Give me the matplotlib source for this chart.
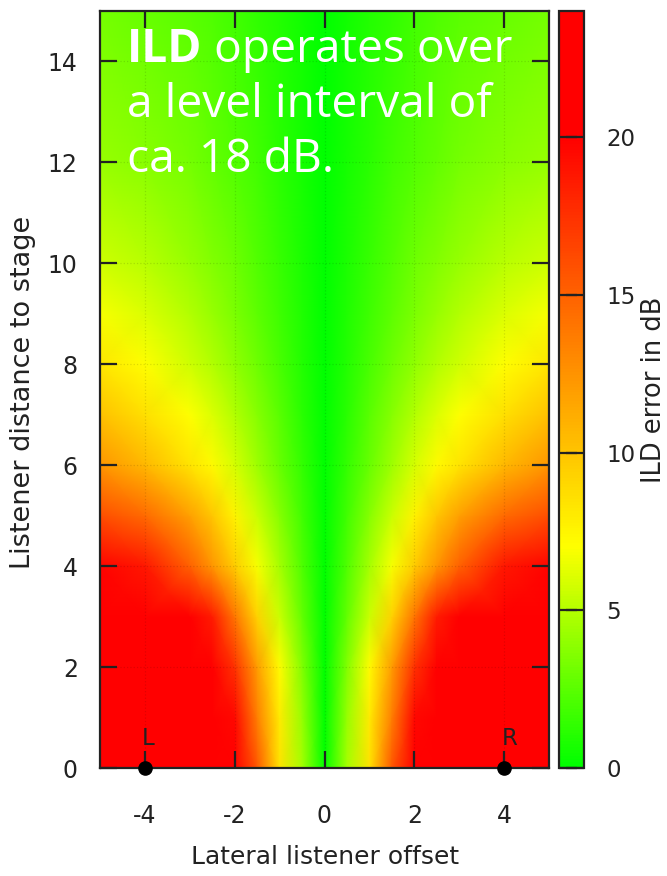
import numpy as np
import matplotlib.pyplot as plt
from matplotlib.colors import LinearSegmentedColormap

plt.rcParams["axes.unicode_minus"] = False

# Lateral offsets (left half, the field is mirrored about x = 0)
x_half = [-5, -4, -3, -2.5, -2, -1.5, -1, -0.5, 0]
# Listener distances
y_rows = [0, 1, 2, 3, 4, 5, 6, 7, 8, 9, 10, 12, 15]

# ILD error in dB, one row per distance
ild_err_half = [
    [24.0, 24.0, 24.0, 23.5, 21.0, 15.5, 8.5, 4.5, 0],
    [24.0, 24.0, 24.0, 22.5, 19.5, 13.5, 8.0, 4.2, 0],
    [24.0, 24.0, 23.0, 21.0, 17.5, 12.0, 7.2, 3.6, 0],
    [24.0, 23.5, 21.0, 18.6, 14.0, 9.3, 5.6, 2.8, 0],
    [19.8, 18.8, 15.0, 12.4, 9.6, 6.8, 4.5, 2.2, 0],
    [16.0, 14.6, 11.9, 9.9, 7.6, 5.6, 3.7, 1.8, 0],
    [12.4, 10.6, 8.4, 7.3, 5.9, 4.4, 2.9, 1.45, 0],
    [10.2, 8.6, 7.0, 6.0, 4.9, 3.7, 2.5, 1.2, 0],
    [8.3, 7.1, 5.7, 4.9, 4.0, 3.0, 2.0, 1.0, 0],
    [6.8, 6.0, 4.9, 4.2, 3.4, 2.6, 1.7, 0.85, 0],
    [5.7, 5.1, 4.2, 3.6, 3.0, 2.3, 1.5, 0.75, 0],
    [4.2, 3.8, 3.2, 2.8, 2.3, 1.8, 1.2, 0.6, 0],
    [3.2, 2.9, 2.5, 2.2, 1.8, 1.4, 0.95, 0.5, 0],
]

speaker_x = [-4, 4]
speaker_y = [0, 0]
speaker_names = ["L", "R"]

x_ticks = [-4, -2, 0, 2, 4]
y_ticks = [0, 2, 4, 6, 8, 10, 12, 14]
cb_ticks = [0, 5, 10, 15, 20]

# Build full (mirrored) grid
x_full = np.array(x_half + [-v for v in reversed(x_half[:-1])])
half = np.array(ild_err_half)
z_full = np.hstack([half, half[:, -2::-1]])
X, Y = np.meshgrid(x_full, np.array(y_rows))

W, H = 667, 876
fig = plt.figure(figsize=(W / 100, H / 100), dpi=100)

ax = fig.add_axes([100 / W, (H - 768) / H, 449 / W, 757 / H])
cax = fig.add_axes([559 / W, (H - 768) / H, 25 / W, 757 / H])

cmap = LinearSegmentedColormap.from_list(
    "ild", [(0, "#00ff00"), (7 / 24, "#ffff00"), (20 / 24, "#ff0000"), (1, "#ff0000")])

mesh = ax.pcolormesh(X, Y, z_full, cmap=cmap, vmin=0, vmax=24, shading="gouraud")

ax.set_xlim(-5, 5)
ax.set_ylim(0, 15)
ax.set_xticks(x_ticks)
ax.set_yticks(y_ticks)
ax.grid(True, linestyle=":", color="k", alpha=0.12, linewidth=0.9)

frame = "#222222"
for sp in ax.spines.values():
    sp.set_color(frame)
    sp.set_linewidth(1.6)
ax.tick_params(direction="in", length=12, width=1.6, color=frame,
               top=True, right=True, labelsize=17, labelcolor="#222222")
ax.tick_params(axis="x", pad=26)
ax.tick_params(axis="y", pad=16)

# speakers
ax.plot(speaker_x, speaker_y, "o", color="black", ms=9.5, clip_on=False, zorder=5)
for sx, name in zip(speaker_x, speaker_names):
    ax.text(sx - 0.06, 0.45, name, ha="left", va="baseline", fontsize=16.5, color="#222222")

# colorbar
cb = fig.colorbar(mesh, cax=cax, ticks=cb_ticks)
cb.outline.set_edgecolor(frame)
cb.outline.set_linewidth(1.6)
cax.yaxis.set_ticks_position("both")
cax.tick_params(direction="in", length=13, width=1.6, color=frame,
                labelsize=16.5, labelcolor="#222222", pad=16,
                left=True, right=True, labelleft=False, labelright=True)
cax.minorticks_off()

# axis labels
fig.text(325 / W, 1 - 857 / H, "Lateral listener offset", ha="center", va="center",
         fontsize=18, color="#222222")
fig.text(23 / W, 1 - 392 / H, "Listener distance to stage", ha="center", va="center",
         rotation=90, fontsize=19.5, color="#222222")
fig.text(654 / W, 1 - 390 / H, "ILD error in dB", ha="center", va="center",
         rotation=90, fontsize=18.5, color="#222222")

# annotation
fsize = 33.2
renderer = fig.canvas.get_renderer()
t_bold = fig.text(127 / W, 1 - 62 / H, "ILD", fontsize=fsize, fontweight="bold",
                  family="Open Sans", color="white", va="baseline", ha="left")
bb = t_bold.get_window_extent(renderer)
fig.text(bb.x1 / W, 1 - 62 / H, " operates over", fontsize=fsize, family="Open Sans",
         color="white", va="baseline", ha="left")
fig.text(127 / W, 1 - 117 / H, "a level interval of", fontsize=fsize, family="Open Sans",
         color="white", va="baseline", ha="left")
fig.text(127 / W, 1 - 172 / H, "ca. 18 dB.", fontsize=fsize, family="Open Sans",
         color="white", va="baseline", ha="left")

fig.savefig("out.png", dpi=100)
